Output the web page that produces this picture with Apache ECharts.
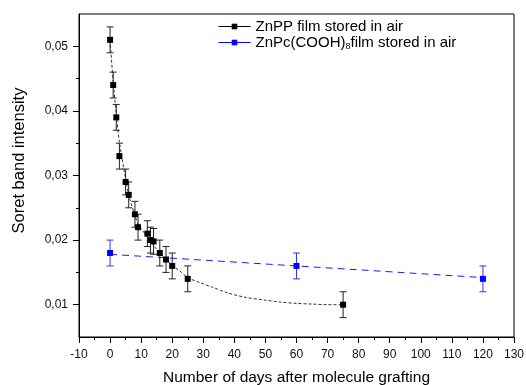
<!DOCTYPE html>
<html>
<head>
<meta charset="utf-8">
<script src="https://cdn.jsdelivr.net/npm/echarts@6/dist/echarts.min.js"></script>
<style>
  html, body { margin: 0; padding: 0; background: #fff; }
  #chart { width: 526px; height: 385px; }
</style>
</head>
<body>
<div id="chart"></div>
<script>
// ZnPP measurements
var daysPP = [0, 1, 2, 3, 5, 6, 8, 9, 12, 13, 14, 16, 18, 20, 25, 75];
var intensPP = [0.051, 0.044, 0.039, 0.033, 0.029, 0.027, 0.024, 0.022, 0.021, 0.020, 0.0198, 0.018, 0.017, 0.016, 0.014, 0.010];
var errPP = [0.002, 0.002, 0.002, 0.002, 0.002, 0.002, 0.002, 0.002, 0.002, 0.002, 0.002, 0.002, 0.002, 0.002, 0.002, 0.002];

// ZnPc(COOH)8 measurements
var daysPc = [0, 60, 120];
var intensPc = [0.018, 0.016, 0.014];
var errPc = [0.002, 0.002, 0.002];

// fit curves
var fitPPx = [0, 1, 2, 3, 5, 6, 8, 9, 12, 14, 16, 18, 20, 22.5, 25, 29, 33, 38, 44, 50, 55, 60, 65, 70, 75];
var fitPPy = [0.051, 0.0445, 0.0395, 0.0352, 0.0295, 0.027, 0.0238, 0.0225, 0.0205, 0.0192, 0.018, 0.017, 0.0161, 0.0152, 0.0142, 0.0134, 0.0127, 0.0118, 0.0111, 0.0107, 0.0104, 0.0102, 0.0101, 0.0100, 0.0100];
var fitPcx = [0, 120];
var fitPcy = [0.0178, 0.0142];

// axis ticks
var yLabels = [0.01, 0.02, 0.03, 0.04, 0.05];
var yMinor = [0.015, 0.025, 0.035, 0.045];

var namePP = 'ZnPP film stored in air';
var namePc = 'ZnPc(COOH)8film stored in air';

function zip(a, b) {
    return a.map(function (v, i) { return [v, b[i]]; });
}
function errData(xs, ys, es) {
    return xs.map(function (v, i) { return [v, ys[i] - es[i], ys[i] + es[i]]; });
}
function errRender(color) {
    return function (params, api) {
        var x = api.value(0);
        var lo = api.coord([x, api.value(1)]);
        var hi = api.coord([x, api.value(2)]);
        var hw = 3.5;
        var st = { stroke: color, lineWidth: 1 };
        return {
            type: 'group',
            children: [
                { type: 'line', shape: { x1: lo[0], y1: lo[1], x2: hi[0], y2: hi[1] }, style: st },
                { type: 'line', shape: { x1: lo[0] - hw, y1: lo[1], x2: lo[0] + hw, y2: lo[1] }, style: st },
                { type: 'line', shape: { x1: hi[0] - hw, y1: hi[1], x2: hi[0] + hw, y2: hi[1] }, style: st }
            ]
        };
    };
}

var font = '"Liberation Sans", Arial, sans-serif';
var myChart = echarts.init(document.getElementById('chart'));

var option = {
    animation: false,
    textStyle: { fontFamily: font },
    grid: {
        left: 79, right: 12, top: 14, bottom: 48,
        outerBoundsMode: 'none',
        show: true, borderColor: '#000', borderWidth: 1
    },
    legend: {
        orient: 'vertical',
        left: 213,
        top: 14,
        itemWidth: 32,
        itemHeight: 7,
        itemGap: 1,
        data: [namePP, namePc],
        lineStyle: { type: 'solid', width: 1, opacity: 1 },
        textStyle: {
            fontFamily: font, fontSize: 15, color: '#000',
            rich: {
                a: { fontFamily: font, fontSize: 15, color: '#000' },
                s: { fontFamily: font, fontSize: 9, color: '#000', padding: [9, 0, 0, 0] }
            }
        },
        formatter: function (name) {
            if (name === namePc) {
                return '{a|ZnPc(COOH)}{s|8}{a|film stored in air}';
            }
            return '{a|' + name + '}';
        }
    },
    xAxis: {
        type: 'value',
        min: -10, max: 130, interval: 10,
        name: 'Number of days after molecule grafting',
        nameLocation: 'middle',
        nameGap: 33,
        nameTextStyle: { fontFamily: font, fontSize: 15.5, color: '#000' },
        axisLine: { onZero: false, lineStyle: { color: '#000', width: 1 } },
        axisTick: { length: 6, lineStyle: { color: '#000' } },
        minorTick: { show: true, splitNumber: 2, length: 3, lineStyle: { color: '#000' } },
        axisLabel: { fontFamily: font, fontSize: 12, color: '#111', margin: 12 },
        splitLine: { show: false }
    },
    yAxis: [
        {
            type: 'value',
            min: 0.005, max: 0.055,
            name: 'Soret band intensity',
            nameLocation: 'middle',
            nameGap: 51,
            nameTextStyle: { fontFamily: font, fontSize: 16.5, color: '#000', padding: [0, 0, 0, 30] },
            axisLine: { show: true, onZero: false, lineStyle: { color: '#000', width: 1 } },
            axisTick: { show: true, length: 6, customValues: yLabels, lineStyle: { color: '#000' } },
            axisLabel: {
                fontFamily: font, fontSize: 12, color: '#111', margin: 11,
                customValues: yLabels,
                formatter: function (v) { return v.toFixed(2).replace('.', ','); }
            },
            splitLine: { show: false }
        },
        {
            type: 'value',
            position: 'left',
            min: 0.005, max: 0.055,
            axisLine: { show: false, onZero: false },
            axisTick: { show: true, length: 3, customValues: yMinor, lineStyle: { color: '#000' } },
            axisLabel: { show: false },
            splitLine: { show: false }
        }
    ],
    series: [
        {
            name: 'fitPP',
            type: 'line',
            data: zip(fitPPx, fitPPy),
            smooth: 0.3,
            symbol: 'none',
            lineStyle: { color: '#333', width: 1, type: [3, 2] },
            z: 2
        },
        {
            name: 'fitPc',
            type: 'line',
            data: zip(fitPcx, fitPcy),
            symbol: 'none',
            lineStyle: { color: '#1a1aff', width: 1, type: [7, 5] },
            z: 2
        },
        {
            type: 'custom',
            data: errData(daysPP, intensPP, errPP),
            encode: { x: 0, y: [1, 2] },
            renderItem: errRender('#222'),
            z: 3
        },
        {
            type: 'custom',
            data: errData(daysPc, intensPc, errPc),
            encode: { x: 0, y: [1, 2] },
            renderItem: errRender('#3333ff'),
            z: 3
        },
        {
            name: namePP,
            type: 'line',
            data: zip(daysPP, intensPP),
            symbol: 'rect',
            symbolSize: 6,
            itemStyle: { color: '#000' },
            lineStyle: { color: '#000', width: 0, opacity: 0 },
            z: 5
        },
        {
            name: namePc,
            type: 'line',
            data: zip(daysPc, intensPc),
            symbol: 'rect',
            symbolSize: 6,
            itemStyle: { color: '#0000ff' },
            lineStyle: { color: '#0000ff', width: 0, opacity: 0 },
            z: 5
        }
    ]
};

myChart.setOption(option);
</script>
</body>
</html>
